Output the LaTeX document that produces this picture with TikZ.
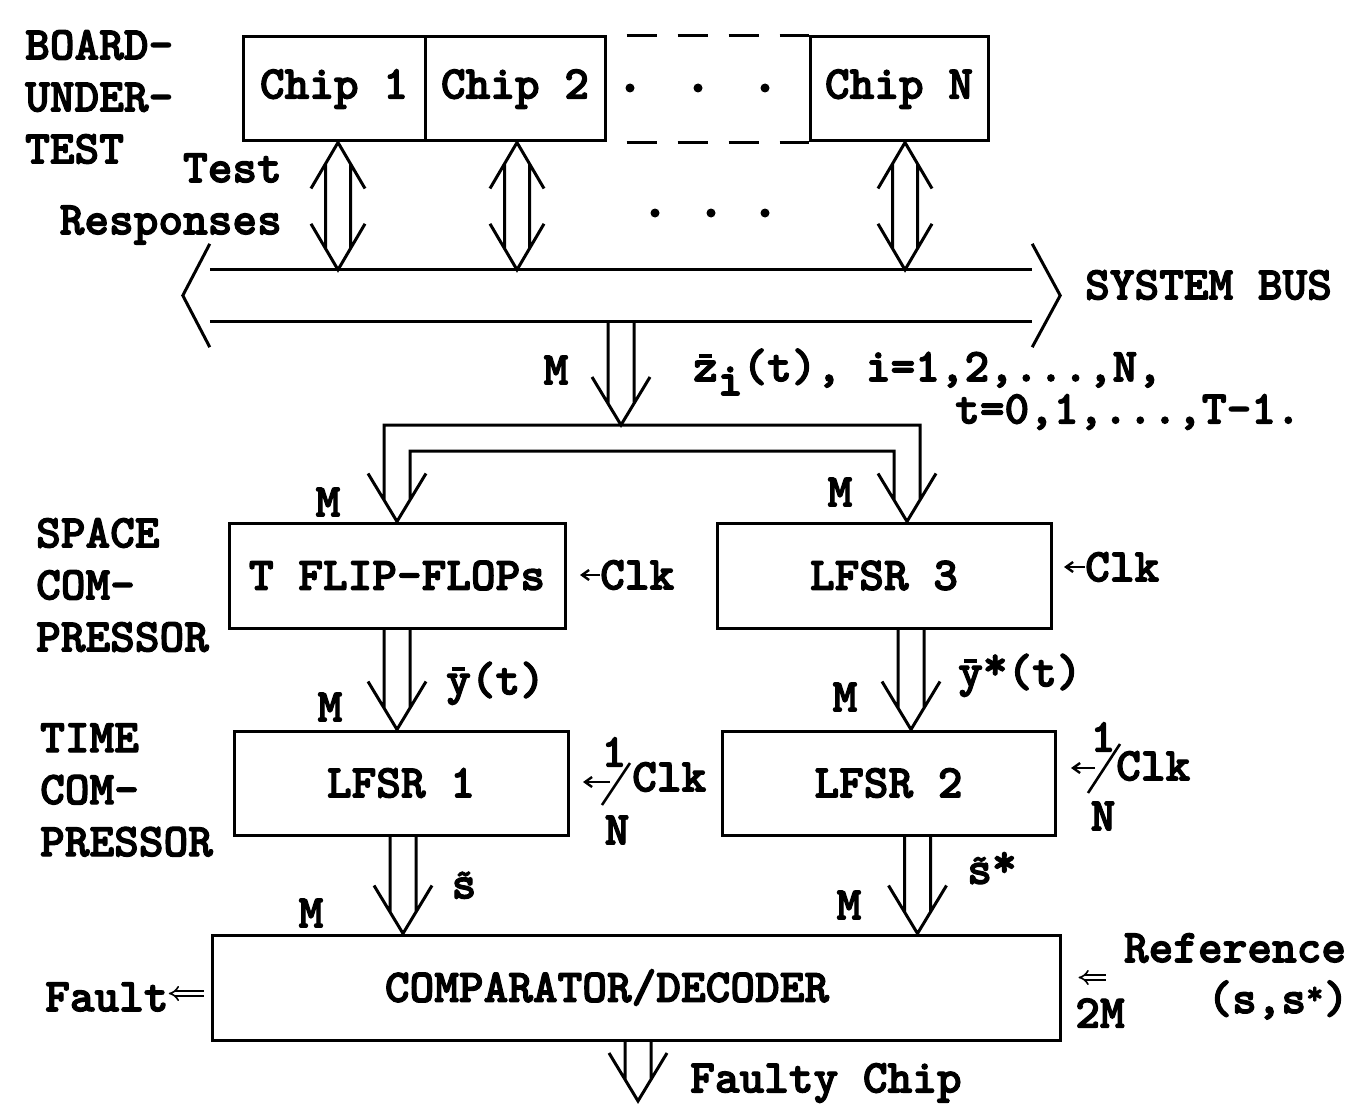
\documentclass[tikz,border=0pt]{standalone}
\usepackage{fontspec}
\newfontfamily\tyb[FakeBold=2.5]{lmmonolt10-bold.otf}
\usetikzlibrary{calc,arrows.meta}
\tikzset{
 lab/.style={font=\fontsize{47}{52}\selectfont\tyb, inner sep=0pt},
 blk/.style={draw, line width=3pt, inner sep=0pt},
 busline/.style={line width=3pt, line join=miter},
 tinyarr/.style={line width=2.4pt, -{Straight Barb[length=7pt,width=10pt]}},
 dblarr/.style={double, double distance=3.5pt, line width=1.6pt, -{Implies}},
}
\newcommand\ovb[1]{\ooalign{#1\cr\hidewidth\raisebox{0.5em}{\rule{0.28em}{0.08em}}\hidewidth\cr}}
\newcommand\ovt[1]{\ooalign{#1\cr\hidewidth\raisebox{0.3em}{\fontsize{34}{34}\selectfont\char"7E}\hidewidth\cr}}
% hollow down arrow: shaft from #1 down to the y of #2
\newcommand\hdown[2]{\draw[busline] let \p1=(#1),\p2=(#2) in
 (\x1-13pt,\y1) -- (\x1-13pt,\y2+21.5pt)
 (\x1+13pt,\y1) -- (\x1+13pt,\y2+21.5pt)
 (\x1-29pt,\y2+48pt) -- (\x1,\y2) -- (\x1+29pt,\y2+48pt);}
% hollow two-headed arrow
\newcommand\hboth[2]{\draw[busline] let \p1=(#1),\p2=(#2) in
 (\x1-27pt,\y1-46pt) -- (\x1,\y1) -- (\x1+27pt,\y1-46pt)
 (\x1-27pt,\y2+46pt) -- (\x1,\y2) -- (\x1+27pt,\y2+46pt)
 (\x1-12.5pt,\y1-21.3pt) -- (\x1-12.5pt,\y2+21.3pt)
 (\x1+12.5pt,\y1-21.3pt) -- (\x1+12.5pt,\y2+21.3pt);}
\begin{document}
\begin{tikzpicture}[x=1pt,y=-1pt]
\useasboundingbox (0,0) rectangle (1355,1105);
\fill[white] (0,0) rectangle (1355,1105);

% ---- board under test
\node[lab, anchor=west, align=left] (board) at (25,97) {BOARD-\\UNDER-\\TEST};
\node[blk,lab,minimum width=182pt,minimum height=104pt] (chip1) at (334,89) {Chip 1};
\node[blk,lab,minimum width=180pt,minimum height=104pt] (chip2) at (515,89) {Chip 2};
\node[blk,lab,minimum width=178pt,minimum height=104pt] (chipN) at (899,89) {Chip N};
\draw[line width=3pt, dash pattern=on 30pt off 21pt, dash phase=31pt]
  (chip2.north east) -- (chipN.north west) (chip2.south east) -- (chipN.south west);
\foreach \x in {630,698,765} \fill (\x,88) circle (4.5pt);
\foreach \x in {655,711,765} \fill (\x,213) circle (4.5pt);

\node[lab, anchor=east, align=right] (tr) at (282,199) {Test\\Responses};

% ---- system bus
\node[minimum width=822pt, minimum height=51pt, inner sep=0pt] (bus) at (621,295.5) {};
\draw[busline] (bus.north west) -- (bus.north east) (bus.south west) -- (bus.south east);
\draw[busline] ([yshift=26pt]bus.north west) -- ([xshift=-27pt]bus.west) -- ([yshift=-26pt]bus.south west);
\draw[busline] ([yshift=26pt]bus.north east) -- ([xshift=28pt]bus.east) -- ([yshift=-26pt]bus.south east);
\node[lab, anchor=west] (sb) at (1085,285) {SYSTEM BUS};

\hboth{[xshift=4pt]chip1.south}{bus.north}
\hboth{[xshift=2pt]chip2.south}{bus.north}
\hboth{[xshift=6pt]chipN.south}{bus.north}

% ---- boxes
\node[blk,lab,minimum width=336pt,minimum height=105pt] (tff) at (397,575.5) {T FLIP-FLOPs};
\node[blk,lab,minimum width=334pt,minimum height=105pt] (lfsr3) at (884,575.5) {LFSR 3};
\node[blk,lab,minimum width=334pt,minimum height=104pt] (lfsr1) at (401,783) {LFSR 1};
\node[blk,lab,minimum width=333pt,minimum height=104pt] (lfsr2) at (888.5,783) {LFSR 2};
\node[blk,lab,minimum width=848pt,minimum height=105pt] (comp) at (636,987.5) {COMPARATOR/DECODER\hspace*{58pt}};

% ---- main bus arrow and split
\coordinate (spl) at (621,425);
\hdown{bus.south}{spl}
\node[lab] (m0) at (556,370) {M};
\node[lab, anchor=west] (zl) at (693,372) {\ovb{z}\raisebox{-0.3em}{i}(t), i=1,2,...,N,};
\node[lab, anchor=west] (tl) at (955,412) {t=0,1,...,T-1.};

\draw[busline] let \p1=(tff.north), \p2=([xshift=23pt]lfsr3.north), \p3=(spl) in
 (\x1-13pt,\y1+21.5pt) -- (\x1-13pt,\y3) -- (\x2+13pt,\y3) -- (\x2+13pt,\y2+21.5pt)
 (\x1+13pt,\y1+21.5pt) -- (\x1+13pt,\y3-26pt) -- (\x2-13pt,\y3-26pt) -- (\x2-13pt,\y2+21.5pt)
 (\x1-29pt,\y1+48pt) -- (\x1,\y1) -- (\x1+29pt,\y1+48pt)
 (\x2-29pt,\y2+48pt) -- (\x2,\y2) -- (\x2+29pt,\y2+48pt);
\node[lab] (m1) at (328,502) {M};
\node[lab] (m2) at (840,492) {M};

% ---- left labels
\node[lab, anchor=west, align=left] (space) at (36,585) {SPACE\\COM-\\PRESSOR};
\node[lab, anchor=west, align=left] (time) at (40,790) {TIME\\COM-\\PRESSOR};

% ---- clocks
\node[lab, anchor=west] (clk1) at (600,575) {Clk};
\coordinate (ck1) at (580,575);
\draw[tinyarr] (clk1.west) -- (ck1);
\node[lab, anchor=west] (clk3) at (1085,567) {Clk};
\coordinate (ck3) at (1064,567);
\draw[tinyarr] (clk3.west) -- (ck3);

\node[lab, anchor=west] (clk2) at (632,777) {Clk};
\node[lab] (one1) at (614,752) {1};
\node[lab] (n1) at (617,830) {N};
\coordinate (sa1) at (602,805); \coordinate (sb1) at (630,763);
\draw[line width=2.6pt] (sa1) -- (sb1);
\coordinate (ak1) at (610,782); \coordinate (ak2) at (583,782);
\draw[tinyarr] (ak1) -- (ak2);

\node[lab, anchor=west] (clk4) at (1116,766) {Clk};
\node[lab] (one2) at (1103,737) {1};
\node[lab] (n2) at (1103,816) {N};
\coordinate (sa2) at (1088,793); \coordinate (sb2) at (1120,744);
\draw[line width=2.6pt] (sa2) -- (sb2);
\coordinate (ak3) at (1095,768); \coordinate (ak4) at (1071,768);
\draw[tinyarr] (ak3) -- (ak4);

% ---- vertical arrows
\hdown{tff.south}{lfsr1.north}
\node[lab] (m3) at (330,707) {M};
\node[lab, anchor=west] (yl) at (446,680) {\ovb{y}(t)};

\hdown{[xshift=27pt]lfsr3.south}{lfsr2.north}
\node[lab] (m4) at (845,697) {M};
\node[lab, anchor=west] (ysl) at (958,672) {\ovb{y}\raisebox{0.15em}{*}(t)};

\hdown{[xshift=2pt]lfsr1.south}{comp.north}
\node[lab] (m5) at (311,913) {M};
\node[lab] (sl) at (464,888) {\ovt{s}};

\hdown{[xshift=29pt]lfsr2.south}{comp.north}
\node[lab] (m6) at (849,905) {M};
\node[lab] (ssl) at (992,868) {\ovt{s}\raisebox{0.15em}{*}};

% ---- comparator I/O
\node[lab, anchor=west] (fault) at (45,997) {Fault};
\draw[dblarr] ([xshift=-7pt,yshift=-6pt]comp.west) -- (fault.east |- {0,993.5});

\node[lab] (ref) at (1235,948) {Reference};
\node[lab] (ss) at (1278,1000) {(s,s\textsuperscript{*})};
\node[lab] (twoM) at (1100,1013) {2M};
\draw[dblarr] ([xshift=44pt,yshift=10pt]comp.east) -- ([xshift=17pt,yshift=10pt]comp.east);

\coordinate (fc) at (638,1101);
\hdown{[xshift=2pt]comp.south}{fc}
\node[lab, anchor=west] (fchip) at (690,1083) {Faulty Chip};
\end{tikzpicture}
\end{document}
